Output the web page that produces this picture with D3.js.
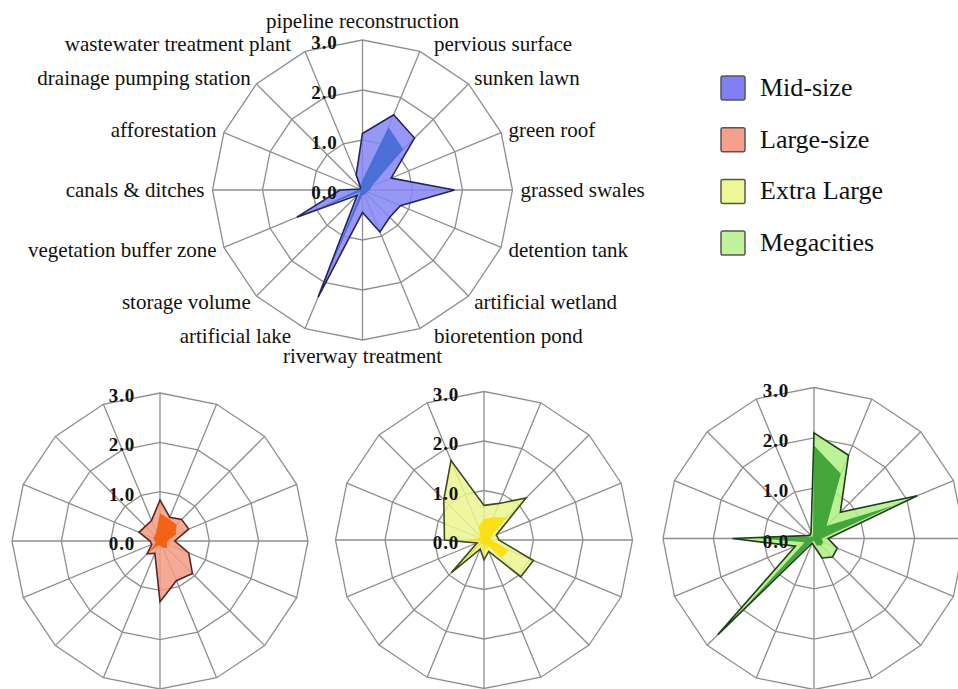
<!DOCTYPE html>
<html>
<head>
<meta charset="utf-8">
<script src="https://cdn.jsdelivr.net/npm/d3@7"></script>
<style>
  body { margin: 0; background: #ffffff; }
  text { font-family: "Liberation Serif", "Times New Roman", Times, serif; }
</style>
</head>
<body>
<svg id="chart" width="958" height="689"></svg>
<script>
// LID measures, clockwise from the top axis
const categories = [
  "pipeline reconstruction", "pervious surface", "sunken lawn", "green roof",
  "grassed swales", "detention tank", "artificial wetland", "bioretention pond",
  "riverway treatment", "artificial lake", "storage volume", "vegetation buffer zone",
  "canals & ditches", "afforestation", "drainage pumping station", "wastewater treatment plant"
];

const tickValues = [0, 1, 2, 3];
const tickLabels = ["0.0", "1.0", "2.0", "3.0"];

const seriesNames = ["Mid-size", "Large-size", "Extra Large", "Megacities"];

// each city class has an outer (light) and an inner (dark) series
const midOuter   = [1.13, 1.63, 1.47, 0.62, 1.84, 0.82, 0.77, 0.91, 0.45, 2.32, 0.15, 1.42, 0.45, 0.05, 0.05, 0.33];
const midInner   = [0.20, 1.36, 1.15, 0.20, 0.15, 0.10, 0.10, 0.10, 0.10, 1.60, 0.05, 0.90, 0.10, 0.02, 0.02, 0.10];

const largeOuter = [0.83, 0.52, 0.62, 0.63, 0.30, 0.63, 0.93, 0.87, 1.23, 0.27, 0.37, 0.18, 0.20, 0.46, 0.42, 0.45];
const largeInner = [0.56, 0.48, 0.47, 0.35, 0.15, 0.15, 0.20, 0.15, 0.10, 0.10, 0.30, 0.10, 0.10, 0.15, 0.15, 0.20];

const xlOuter    = [0.70, 0.80, 1.20, 0.27, 0.30, 1.08, 1.05, 0.25, 0.40, 0.20, 0.93, 0.15, 0.80, 0.87, 1.15, 1.74];
const xlInner    = [0.42, 0.50, 0.65, 0.15, 0.15, 0.55, 0.50, 0.10, 0.30, 0.05, 0.75, 0.05, 0.35, 0.10, 0.10, 0.30];

const megaOuter  = [2.10, 1.79, 0.74, 2.22, 0.28, 0.50, 0.52, 0.42, 0.15, 0.10, 2.70, 0.40, 1.62, 0.15, 0.10, 0.15];
const megaInner  = [1.85, 1.39, 0.35, 1.70, 0.15, 0.20, 0.20, 0.15, 0.05, 0.05, 2.00, 0.20, 1.10, 0.10, 0.05, 0.05];

// panel layout and styling
const panels = [
  { cx: 362.5, cy: 190,   r: 150, outer: midOuter,   inner: midInner,   light: "#8585f5", dark: "#4069d2", line: "#24245e", key: "#8080f2", labels: true },
  { cx: 160,   cy: 541,   r: 148, outer: largeOuter, inner: largeInner, light: "#f39b84", dark: "#f55800", line: "#5a2222", key: "#f4a08c", labels: false },
  { cx: 484,   cy: 540,   r: 148.5, outer: xlOuter,  inner: xlInner,    light: "#ebf48f", dark: "#ffdd00", line: "#3d4a1a", key: "#eef794", labels: false },
  { cx: 814,   cy: 538.5, r: 151, outer: megaOuter,  inner: megaInner,  light: "#b0f084", dark: "#2e9a2e", line: "#1d3d1d", key: "#c0f39a", labels: false }
];

const svg = d3.select("#chart");
const n = categories.length;
const angle = d3.scaleLinear().domain([0, n]).range([0, 2 * Math.PI]);
const idx = d3.range(n);

panels.forEach(p => {
  const rScale = d3.scaleLinear().domain([0, 3]).range([0, p.r]);
  const g = svg.append("g").attr("transform", `translate(${p.cx},${p.cy})`);

  const radial = d3.lineRadial()
    .angle(i => angle(i))
    .curve(d3.curveLinearClosed);

  // rings
  g.selectAll(".ring").data(tickValues.slice(1)).join("path")
    .attr("d", v => radial.radius(() => rScale(v))(idx))
    .attr("fill", "none").attr("stroke", "#8e8e8e").attr("stroke-width", 1.3);

  // spokes
  g.selectAll(".spoke").data(idx).join("line")
    .attr("x1", 0).attr("y1", 0)
    .attr("x2", i => rScale(3) * Math.sin(angle(i)))
    .attr("y2", i => -rScale(3) * Math.cos(angle(i)))
    .attr("stroke", "#8e8e8e").attr("stroke-width", 1.3);

  // series areas
  const area = vals => d3.lineRadial()
    .angle((d, i) => angle(i))
    .radius(d => rScale(d))
    .curve(d3.curveLinearClosed)(vals);

  g.append("path").attr("d", area(p.outer))
    .attr("fill", p.light).attr("fill-opacity", 0.85).attr("stroke", "none");
  g.append("path").attr("d", area(p.inner))
    .attr("fill", p.dark).attr("fill-opacity", 0.85).attr("stroke", "none");
  g.append("path").attr("d", area(p.outer))
    .attr("fill", "none").attr("stroke", p.line).attr("stroke-width", 1.6)
    .attr("stroke-linejoin", "miter");

  // value ticks, left of the vertical axis
  g.selectAll(".tick").data(tickValues).join("text")
    .attr("x", -25)
    .attr("y", v => -rScale(v) + 9)
    .attr("text-anchor", "end")
    .attr("font-size", 19).attr("font-weight", "bold")
    .attr("letter-spacing", 0.8)
    .attr("fill", "#111")
    .text((v, i) => tickLabels[i]);

  // category labels
  if (p.labels) {
    const R = rScale(3);
    g.selectAll(".cat").data(categories).join("text")
      .each(function (c, i) {
        const a = angle(i);
        const sx = Math.sin(a), cy = -Math.cos(a);
        const t = d3.select(this);
        if (i === 0) {
          t.attr("x", 0).attr("y", -R - 12).attr("text-anchor", "middle");
        } else if (i === n / 2) {
          t.attr("x", 0).attr("y", R + 23).attr("text-anchor", "middle");
        } else {
          const d = R + 8;
          const extra = Math.abs(cy) > 0.9 ? 11 : 0;
          const x = d * sx + (sx > 0 ? extra : -extra);
          t.attr("x", x).attr("y", d * cy + 7)
            .attr("text-anchor", sx > 0 ? "start" : "end");
        }
      })
      .attr("font-size", 21)
      .attr("fill", "#111")
      .text(c => c);
  }
});

// legend
const legend = svg.append("g").attr("transform", "translate(721,76)");
const rows = legend.selectAll("g").data(seriesNames).join("g")
  .attr("transform", (d, i) => `translate(0,${i * 51.7})`);
rows.append("rect")
  .attr("width", 24).attr("height", 24).attr("rx", 2)
  .attr("fill", (d, i) => panels[i].key)
  .attr("stroke", "#555").attr("stroke-width", 1.5);
rows.append("text")
  .attr("x", 39).attr("y", 20)
  .attr("font-size", 26).attr("fill", "#111")
  .text(d => d);
</script>
</body>
</html>
